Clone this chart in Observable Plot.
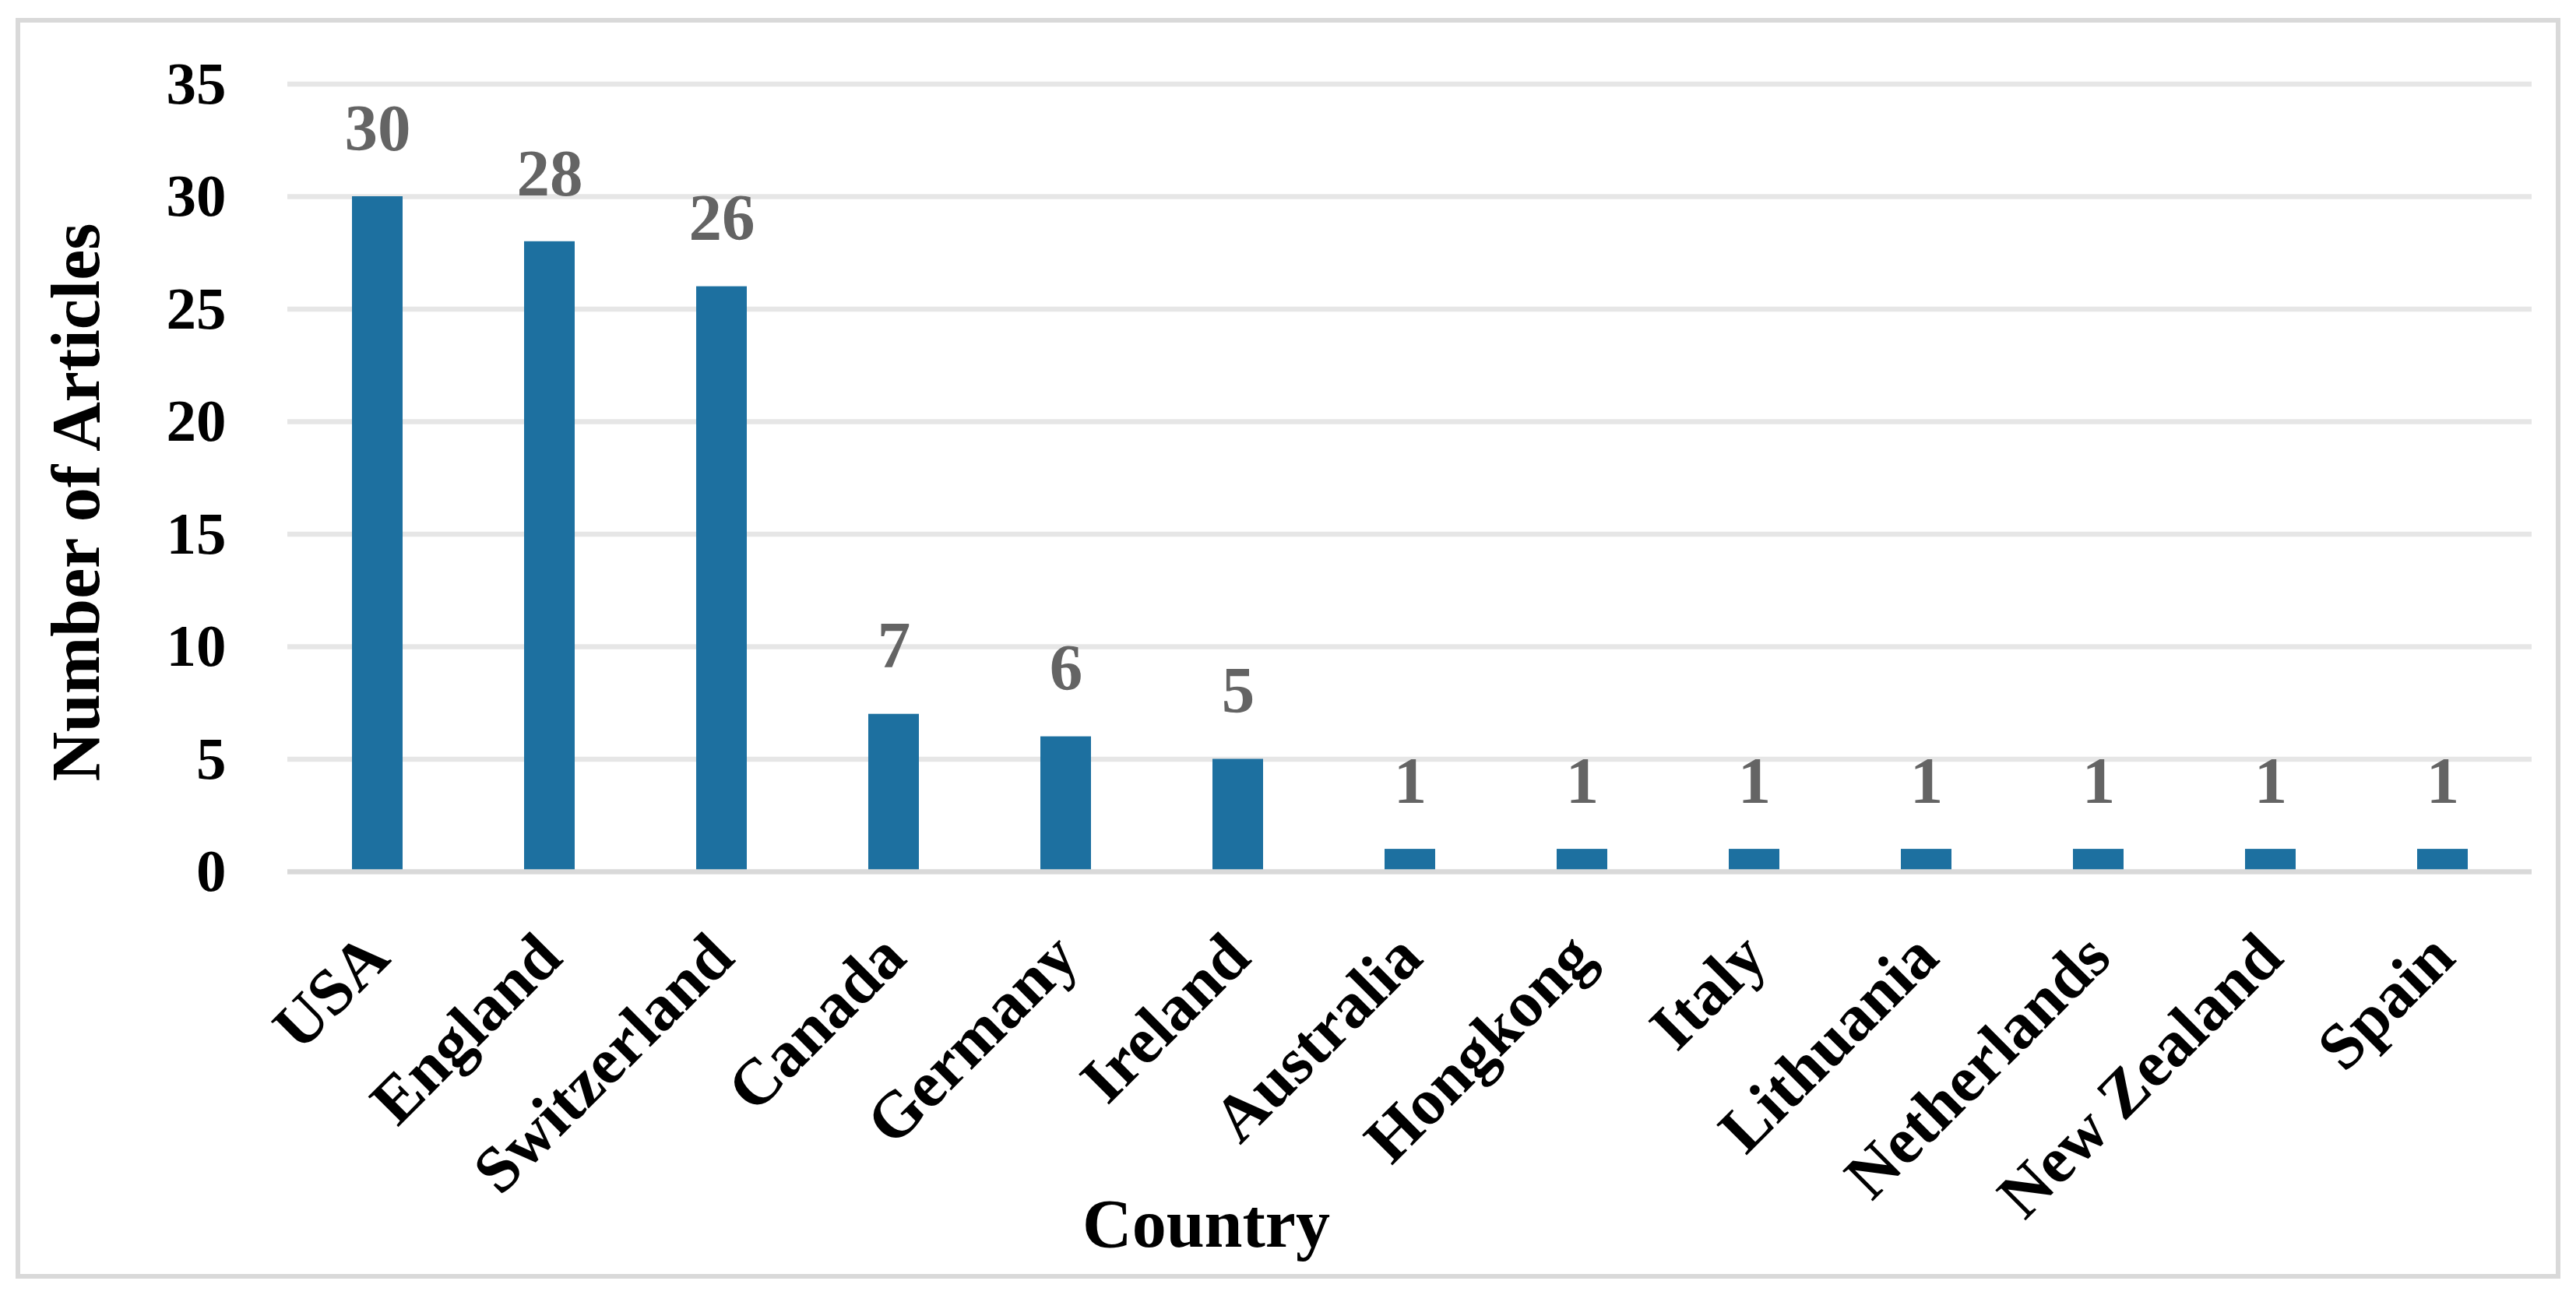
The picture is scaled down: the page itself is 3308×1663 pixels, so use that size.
<!DOCTYPE html>
<html>
<head>
<meta charset="utf-8">
<script src="https://cdn.jsdelivr.net/npm/d3@7"></script>
<script src="https://cdn.jsdelivr.net/npm/@observablehq/plot@0.6"></script>
<style>
  html, body { margin: 0; padding: 0; background: #ffffff; }
  #wrap { position: relative; width: 3308px; height: 1663px; background: #ffffff; }
  #frame { position: absolute; left: 20px; top: 23px; width: 3268px; height: 1619px;
           box-sizing: border-box; border: 6.5px solid #d9d9d9; pointer-events: none; }
  #chart { position: absolute; left: 0; top: 0; }
</style>
</head>
<body>
<div id="wrap"><div id="chart"></div><div id="frame"></div></div>
<script>
const countries = ["USA", "England", "Switzerland", "Canada", "Germany", "Ireland", "Australia",
  "Hongkong", "Italy", "Lithuania", "Netherlands", "New Zealand", "Spain"];
const articles = [30, 28, 26, 7, 6, 5, 1, 1, 1, 1, 1, 1, 1];
const yTicks = [0, 5, 10, 15, 20, 25, 30, 35];
const xTitle = "Country";
const yTitle = "Number of Articles";

const data = countries.map((c, i) => ({country: c, n: articles[i]}));
const FONT = "'Liberation Serif', 'Times New Roman', serif";

const plot = Plot.plot({
  width: 3308,
  height: 1663,
  marginLeft: 369,
  marginRight: 57,
  marginTop: 107.5,
  marginBottom: 544,
  style: {fontFamily: FONT, background: "#ffffff", color: "#000000"},
  x: {type: "band", domain: countries, paddingInner: 0.707, paddingOuter: 0.3535, axis: null},
  y: {domain: [0, 35], axis: null},
  marks: [
    Plot.ruleY(yTicks.filter(d => d > 0), {stroke: "#e6e6e6", strokeWidth: 6.7}),
    Plot.barY(data, {x: "country", y: "n", fill: "#1d70a0"}),
    Plot.ruleY([0], {stroke: "#d9d9d9", strokeWidth: 6.7}),
    Plot.text(data, {x: "country", y: "n", text: d => String(d.n), dy: -87,
      fill: "#646464", fontSize: 85, fontWeight: "bold", textAnchor: "middle"}),
    Plot.axisY({ticks: yTicks, tickSize: 0, tickPadding: 79, fontSize: 77,
      fontWeight: "bold", label: null, tickFormat: d => String(d)}),
    Plot.axisX({tickRotate: -45, tickSize: 0, tickPadding: 95, fontSize: 84,
      fontWeight: "bold", label: null})
  ]
});

document.getElementById("chart").appendChild(plot);

const svg = d3.select(plot);
svg.append("text")
  .attr("transform", "translate(127,645) rotate(-90)")
  .attr("text-anchor", "middle")
  .attr("font-family", FONT)
  .attr("font-size", 88)
  .attr("font-weight", "bold")
  .attr("fill", "#000000")
  .text(yTitle);
svg.append("text")
  .attr("x", 1549)
  .attr("y", 1601)
  .attr("text-anchor", "middle")
  .attr("font-family", FONT)
  .attr("font-size", 88)
  .attr("font-weight", "bold")
  .attr("fill", "#000000")
  .text(xTitle);
</script>
</body>
</html>
